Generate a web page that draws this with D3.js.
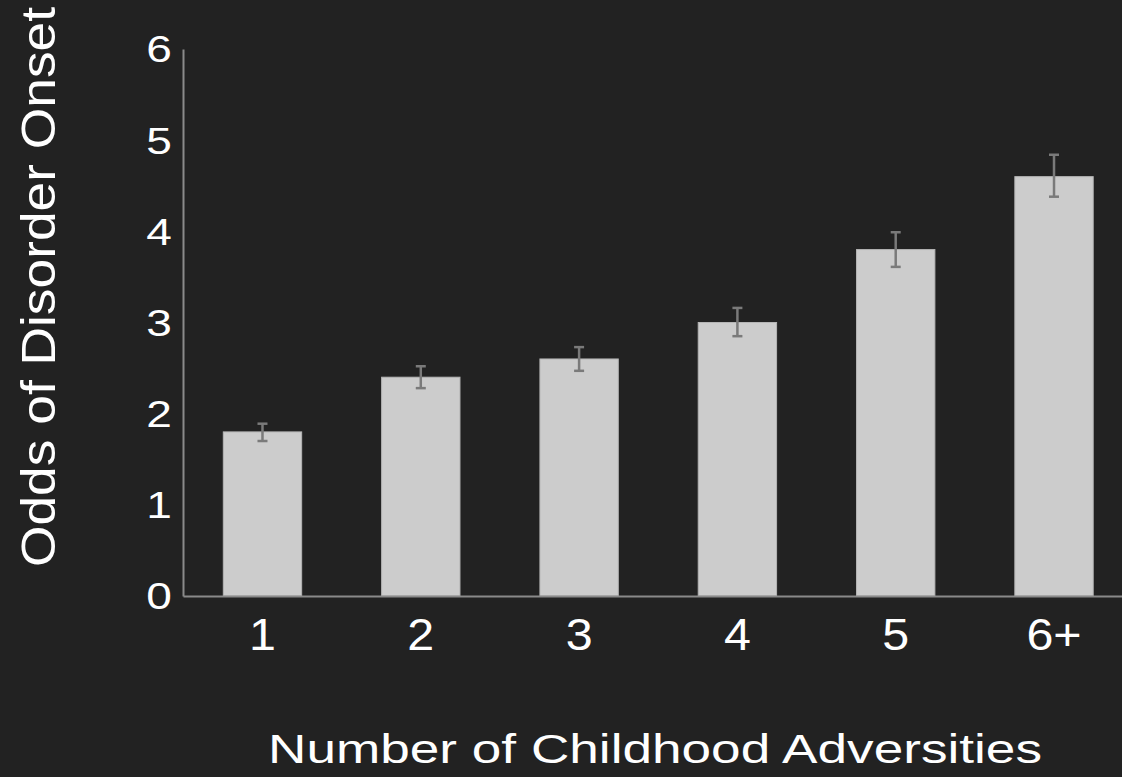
<!DOCTYPE html>
<html>
<head>
<meta charset="utf-8">
<script src="https://cdn.jsdelivr.net/npm/d3@7"></script>
<style>
  html, body { margin: 0; padding: 0; background: #222222; }
  svg { display: block; }
  text { font-family: "Liberation Sans", Arial, sans-serif; fill: #ffffff; }
</style>
</head>
<body>
<svg id="chart" width="1122" height="777"></svg>
<script>
const categories = ["1", "2", "3", "4", "5", "6+"];
const values = [1.8, 2.4, 2.6, 3.0, 3.8, 4.6];
const errLow = [1.70, 2.28, 2.47, 2.85, 3.61, 4.38];
const errHigh = [1.89, 2.52, 2.73, 3.16, 3.99, 4.84];
const yTicks = [0, 1, 2, 3, 4, 5, 6];
const xTitle = "Number of Childhood Adversities";
const yTitle = "Odds of Disorder Onset";

const svg = d3.select("#chart");
svg.append("rect").attr("width", 1122).attr("height", 777).attr("fill", "#222222");

const y = d3.scaleLinear().domain([0, 6]).range([596, 49]);
const x = d3.scaleBand().domain(categories).range([183, 1133.5])
  .paddingInner(0.505).paddingOuter(0.2546);

// bars
svg.append("g").selectAll("rect")
  .data(values)
  .join("rect")
  .attr("x", (d, i) => x(categories[i]))
  .attr("y", d => y(d))
  .attr("width", x.bandwidth())
  .attr("height", d => y(0) - y(d))
  .attr("fill", "#cccccc")
  .attr("stroke", "#b5b5b5")
  .attr("stroke-width", 1);

// error bars
const eg = svg.append("g").attr("stroke", "#7a7a7a").attr("stroke-width", 2.5);
categories.forEach((c, i) => {
  const cx = x(c) + x.bandwidth() / 2;
  eg.append("line").attr("x1", cx).attr("x2", cx).attr("y1", y(errLow[i])).attr("y2", y(errHigh[i]));
  eg.append("line").attr("x1", cx - 5).attr("x2", cx + 5).attr("y1", y(errLow[i])).attr("y2", y(errLow[i]));
  eg.append("line").attr("x1", cx - 5).attr("x2", cx + 5).attr("y1", y(errHigh[i])).attr("y2", y(errHigh[i]));
});

// y axis
const yAxis = svg.append("g").attr("transform", "translate(183,0)")
  .call(d3.axisLeft(y).tickValues(yTicks).tickFormat(d3.format("d")).tickSize(0).tickSizeOuter(0));
yAxis.select(".domain").attr("stroke", "#8a8a8a").attr("stroke-width", 2);
yAxis.selectAll(".tick text")
  .attr("x", 0).attr("dy", "0.36em")
  .attr("font-size", 36)
  .attr("fill", "#ffffff")
  .attr("text-anchor", "end")
  .attr("transform", "translate(-11,0) scale(1.28,1)");

// x axis
const xAxis = svg.append("g").attr("transform", "translate(0,596)")
  .call(d3.axisBottom(x).tickSize(0).tickSizeOuter(0));
xAxis.select(".domain").attr("stroke", "#8a8a8a").attr("stroke-width", 2);
xAxis.selectAll(".tick text")
  .attr("y", 0).attr("dy", 0)
  .attr("font-size", 44)
  .attr("fill", "#ffffff")
  .attr("transform", "translate(0,54) scale(1.1,1)");
xAxis.selectAll(".tick").each(function() {
  // keep scale about the tick center
});

// titles
svg.append("text")
  .attr("x", 268).attr("y", 763)
  .attr("font-size", 41)
  .attr("textLength", 774)
  .attr("lengthAdjust", "spacingAndGlyphs")
  .text(xTitle);

svg.append("text")
  .attr("transform", "translate(55,567) rotate(-90)")
  .attr("font-size", 49)
  .attr("textLength", 560)
  .attr("lengthAdjust", "spacingAndGlyphs")
  .text(yTitle);
</script>
</body>
</html>
